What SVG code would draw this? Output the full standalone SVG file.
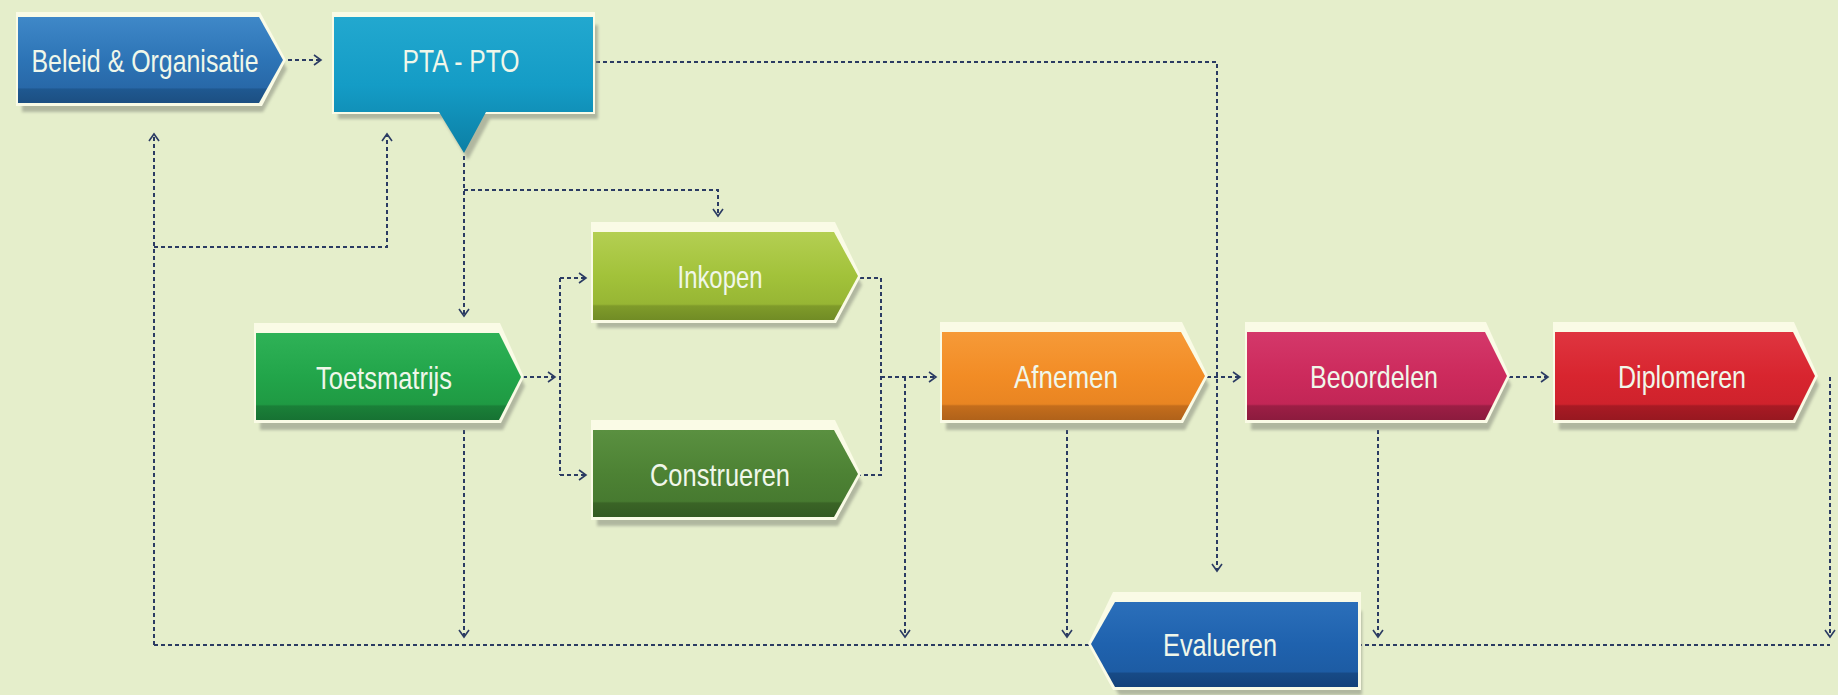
<svg xmlns="http://www.w3.org/2000/svg" width="1838" height="695" viewBox="0 0 1838 695">
<style>
.c{fill:none;stroke:#2b3b63;stroke-width:2;stroke-dasharray:4 3}
.t{font-family:"Liberation Sans Narrow","Liberation Sans",Arial,sans-serif;font-size:32px;fill:#f0f7ea;text-anchor:middle}
.sh{fill:#8e9383;opacity:.6;filter:url(#blur)}
.fr{fill:#fafbe6}
</style>
<defs>
<filter id="blur" x="-5%" y="-20%" width="110%" height="140%"><feGaussianBlur stdDeviation="1.5"/></filter>
<marker id="ah" markerWidth="12" markerHeight="12" refX="8" refY="6" orient="auto" markerUnits="userSpaceOnUse"><path d="M1,1 L8,6 L1,11" fill="none" stroke="#2b3b63" stroke-width="1.6"/></marker>
<linearGradient id="gBl" x1="0" y1="0" x2="0" y2="1"><stop offset="0" stop-color="#3f88c8"/><stop offset=".5" stop-color="#2d74b6"/><stop offset=".82" stop-color="#2868a8"/><stop offset=".84" stop-color="#1f5890"/><stop offset="1" stop-color="#1c4f82"/></linearGradient>
<linearGradient id="gPt" x1="0" y1="0" x2="0" y2="1"><stop offset="0" stop-color="#22a8cf"/><stop offset=".5" stop-color="#149cc6"/><stop offset="1" stop-color="#0c7fa4"/></linearGradient>
<linearGradient id="gTo" x1="0" y1="0" x2="0" y2="1"><stop offset="0" stop-color="#2fb257"/><stop offset=".5" stop-color="#22a54a"/><stop offset=".82" stop-color="#1f9a43"/><stop offset=".84" stop-color="#1a8038"/><stop offset="1" stop-color="#177233"/></linearGradient>
<linearGradient id="gIn" x1="0" y1="0" x2="0" y2="1"><stop offset="0" stop-color="#b4cf52"/><stop offset=".5" stop-color="#a2c23a"/><stop offset=".82" stop-color="#97b634"/><stop offset=".84" stop-color="#7f9b2a"/><stop offset="1" stop-color="#718c25"/></linearGradient>
<linearGradient id="gCo" x1="0" y1="0" x2="0" y2="1"><stop offset="0" stop-color="#5a9040"/><stop offset=".5" stop-color="#4d8234"/><stop offset=".82" stop-color="#477a30"/><stop offset=".84" stop-color="#3a6426"/><stop offset="1" stop-color="#335a22"/></linearGradient>
<linearGradient id="gAf" x1="0" y1="0" x2="0" y2="1"><stop offset="0" stop-color="#f69a38"/><stop offset=".5" stop-color="#f28c25"/><stop offset=".82" stop-color="#e98522"/><stop offset=".84" stop-color="#c46d1c"/><stop offset="1" stop-color="#b0621a"/></linearGradient>
<linearGradient id="gBe" x1="0" y1="0" x2="0" y2="1"><stop offset="0" stop-color="#d4386a"/><stop offset=".5" stop-color="#cc2a5c"/><stop offset=".82" stop-color="#c22656"/><stop offset=".84" stop-color="#9c1e45"/><stop offset="1" stop-color="#8c1b3e"/></linearGradient>
<linearGradient id="gDi" x1="0" y1="0" x2="0" y2="1"><stop offset="0" stop-color="#df3540"/><stop offset=".5" stop-color="#d8252f"/><stop offset=".82" stop-color="#cf222c"/><stop offset=".84" stop-color="#a81a24"/><stop offset="1" stop-color="#971820"/></linearGradient>
<linearGradient id="gEv" x1="0" y1="0" x2="0" y2="1"><stop offset="0" stop-color="#2b6fba"/><stop offset=".5" stop-color="#1f62ae"/><stop offset=".82" stop-color="#1d5ca4"/><stop offset=".84" stop-color="#174a86"/><stop offset="1" stop-color="#14427a"/></linearGradient>
</defs>
<rect width="1838" height="695" fill="#e5eecb"/>

<g id="connectors">
<path class="c" d="M288,60 H321" marker-end="url(#ah)"/>
<path class="c" d="M596,62 H1217 V571" marker-end="url(#ah)"/>
<path class="c" d="M464,156 V316" marker-end="url(#ah)"/>
<path class="c" d="M464,190 H718 V216" marker-end="url(#ah)"/>
<path class="c" d="M154,645 V134" marker-end="url(#ah)"/>
<path class="c" d="M154,247 H387 V134" marker-end="url(#ah)"/>
<path class="c" d="M523,377 H555" marker-end="url(#ah)"/>
<path class="c" d="M560,278 V475"/>
<path class="c" d="M560,278 H586" marker-end="url(#ah)"/>
<path class="c" d="M560,475 H586" marker-end="url(#ah)"/>
<path class="c" d="M860,278 H881 V475 H860"/>
<path class="c" d="M881,377 H936" marker-end="url(#ah)"/>
<path class="c" d="M905,377 V637" marker-end="url(#ah)"/>
<path class="c" d="M464,430 V637" marker-end="url(#ah)"/>
<path class="c" d="M1207,377 H1240" marker-end="url(#ah)"/>
<path class="c" d="M1067,430 V637" marker-end="url(#ah)"/>
<path class="c" d="M1509,377 H1548" marker-end="url(#ah)"/>
<path class="c" d="M1378,430 V637" marker-end="url(#ah)"/>
<path class="c" d="M1830,377 V637" marker-end="url(#ah)"/>
<path class="c" d="M154,645 H1091"/>
<path class="c" d="M1358,645 H1830"/>
</g>

<g id="beleid">
<path class="sh" d="M22,26 H263 L287,69 L263,112 H22 Z"/>
<path class="fr" d="M16,12 H260 L286,60 L262,106 H16 Z"/>
<path fill="url(#gBl)" d="M18,17 H259 L283,60 L259,103 H18 Z"/>
<text class="t" x="145" y="72" textLength="227" lengthAdjust="spacingAndGlyphs">Beleid &amp; Organisatie</text>
</g>

<g id="pta">
<path class="sh" d="M338,25 H598 V119 H490 L468,160 L443,119 H338 Z"/>
<path class="fr" d="M332,12 H595 V114 H332 Z"/>
<path fill="url(#gPt)" d="M334,17 H593 V112 H486 L464,153 L439,112 H334 Z"/>
<text class="t" x="461" y="72" textLength="117" lengthAdjust="spacingAndGlyphs">PTA - PTO</text>
</g>

<g id="toetsmatrijs">
<path class="sh" d="M260,342 H503 L525,386 L503,430 H260 Z"/>
<path class="fr" d="M254,323 H500 L524,377 L501,423 H254 Z"/>
<path fill="url(#gTo)" d="M256,333 H499 L521,377 L499,420 H256 Z"/>
<text class="t" x="384" y="389" textLength="136" lengthAdjust="spacingAndGlyphs">Toetsmatrijs</text>
</g>

<g id="inkopen">
<path class="sh" d="M597,241 H838 L862,285 L838,328 H597 Z"/>
<path class="fr" d="M591,222 H835 L861,276 L836,323 H591 Z"/>
<path fill="url(#gIn)" d="M593,232 H834 L858,276 L834,320 H593 Z"/>
<text class="t" x="720" y="288" textLength="85" lengthAdjust="spacingAndGlyphs">Inkopen</text>
</g>

<g id="construeren">
<path class="sh" d="M597,439 H838 L862,483 L838,526 H597 Z"/>
<path class="fr" d="M591,420 H835 L861,474 L836,520 H591 Z"/>
<path fill="url(#gCo)" d="M593,430 H834 L858,474 L834,517 H593 Z"/>
<text class="t" x="720" y="486" textLength="140" lengthAdjust="spacingAndGlyphs">Construeren</text>
</g>

<g id="afnemen">
<path class="sh" d="M946,341 H1185 L1209,385 L1185,430 H946 Z"/>
<path class="fr" d="M940,322 H1182 L1208,376 L1183,423 H940 Z"/>
<path fill="url(#gAf)" d="M942,332 H1181 L1205,376 L1181,420 H942 Z"/>
<text class="t" x="1066" y="388" textLength="104" lengthAdjust="spacingAndGlyphs">Afnemen</text>
</g>

<g id="beoordelen">
<path class="sh" d="M1251,341 H1489 L1511,385 L1489,430 H1251 Z"/>
<path class="fr" d="M1245,322 H1486 L1510,376 L1487,423 H1245 Z"/>
<path fill="url(#gBe)" d="M1247,332 H1485 L1507,376 L1485,420 H1247 Z"/>
<text class="t" x="1374" y="388" textLength="128" lengthAdjust="spacingAndGlyphs">Beoordelen</text>
</g>

<g id="diplomeren">
<path class="sh" d="M1559,341 H1797 L1819,385 L1797,430 H1559 Z"/>
<path class="fr" d="M1553,322 H1794 L1818,376 L1795,423 H1553 Z"/>
<path fill="url(#gDi)" d="M1555,332 H1793 L1815,376 L1793,420 H1555 Z"/>
<text class="t" x="1682" y="388" textLength="128" lengthAdjust="spacingAndGlyphs">Diplomeren</text>
</g>

<g id="evalueren">
<path class="sh" d="M1095,653 L1119,611 H1362 V695 H1119 Z"/>
<path class="fr" d="M1088,644 L1113,592 H1361 V690 H1113 Z"/>
<path fill="url(#gEv)" d="M1091,644 L1115,602 H1358 V687 H1115 Z"/>
<text class="t" x="1220" y="656" textLength="114" lengthAdjust="spacingAndGlyphs">Evalueren</text>
</g>
</svg>
